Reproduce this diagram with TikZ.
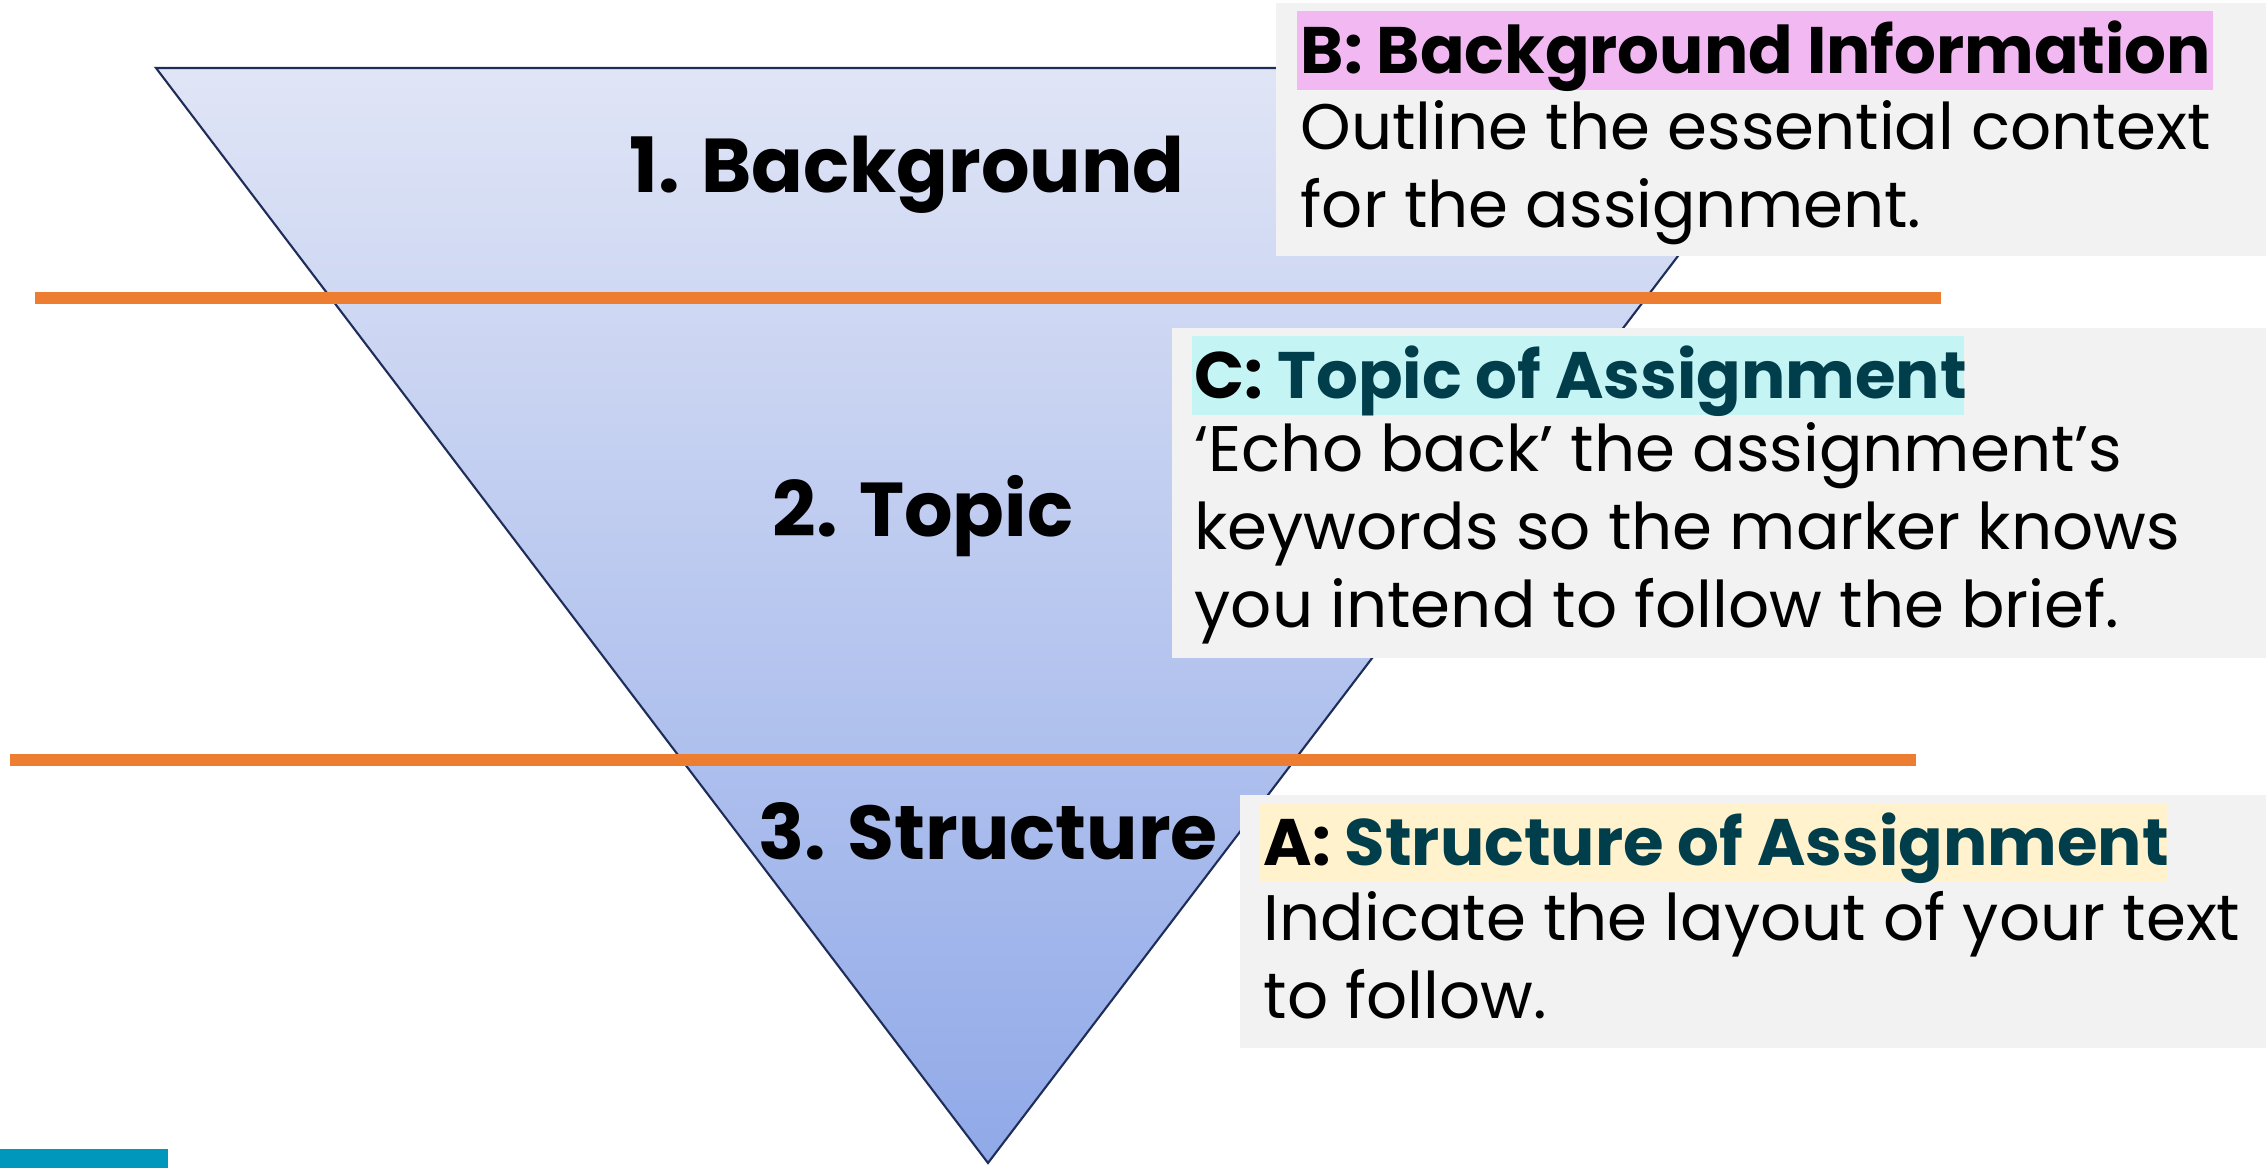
\documentclass[tikz,border=0pt]{standalone}
\usepackage{fontspec}
\setmainfont{Poppins}
\usetikzlibrary{positioning}

\definecolor{edge}{RGB}{31,45,90}
\definecolor{tritop}{RGB}{224,229,246}
\definecolor{tribot}{RGB}{144,169,232}
\definecolor{lineorange}{RGB}{237,125,49}
\definecolor{barteal}{RGB}{0,151,189}
\definecolor{boxgray}{RGB}{242,242,242}
\definecolor{hlpink}{RGB}{242,184,242}
\definecolor{hlcyan}{RGB}{197,244,244}
\definecolor{hlyellow}{RGB}{255,242,204}
\definecolor{darkteal}{RGB}{1,62,76}

\begin{document}
\begin{tikzpicture}[x=0.01cm,y=-0.01cm,
	orangeline/.style={draw=lineorange,line width=3.3pt},
	stage/.style={anchor=base,inner sep=0,font=\fontsize{21.7}{26}\selectfont\bfseries},
	head/.style={anchor=base west,inner sep=0,font=\fontsize{18.7}{22}\selectfont\bfseries},
	body/.style={anchor=base west,inner sep=0,align=left,font=\fontsize{18.3}{22.2}\selectfont}]
	\useasboundingbox (0,0) rectangle (2266,1168);
	
	% triangle
	\coordinate (TL) at (156,68);
	\coordinate (TR) at (1821,68);
	\coordinate (P) at (988,1163);
	\shade[top color=tritop,bottom color=tribot,draw=edge,line width=0.6pt] (TL)--(TR)--(P)--cycle;
	
	% dividers
	\coordinate (L1a) at (35,298);
	\coordinate (L1b) at (1941,298);
	\coordinate (L2a) at (10,760);
	\coordinate (L2b) at (1916,760);
	\draw[orangeline] (L1a)--(L1b);
	\draw[orangeline] (L2a)--(L2b);
	\fill[barteal] (0,1149) rectangle (168,1168);
	
	\node[stage] (S1) at (907,193) {1. Background};
	\node[stage] (S2) at (923,537) {2. Topic};
	\node[stage] (S3) at (988,860) {3. Structure};
	
	% boxes (body nodes sit on their last line)
	\fill[boxgray] (1276,3) rectangle (2266,256);
	\fill[hlpink] (1297,11) rectangle (2213,90);
	\node[head] (B) at (1300,74) {B: Background Information};
	\node[body] (Btext) at (1300,228) {Outline the essential context\\for the assignment.};
	
	\fill[boxgray] (1172,328) rectangle (2266,658);
	\fill[hlcyan] (1192,336) rectangle (1964,415);
	\node[head] (C) at (1194,399) {C: \textcolor{darkteal}{Topic of Assignment}};
	\node[body] (Ctext) at (1194,628) {‘Echo back’ the assignment’s\\keywords so the marker knows\\you intend to follow the brief.};
	
	\fill[boxgray] (1240,795) rectangle (2266,1048);
	\fill[hlyellow] (1260,803) rectangle (2168,881);
	\node[head] (A) at (1263,866) {A: \textcolor{darkteal}{Structure of Assignment}};
	\node[body] (Atext) at (1263,1019) {Indicate the layout of your text\\to follow.};
\end{tikzpicture}
\end{document}
